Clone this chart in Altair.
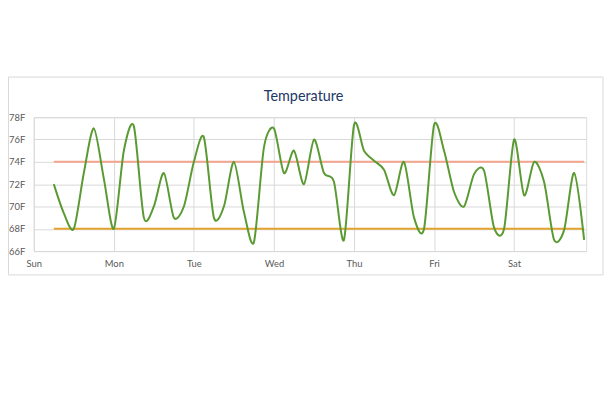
import altair as alt
import pandas as pd

# Day labels at integer day positions
day_labels = ["Sun", "Mon", "Tue", "Wed", "Thu", "Fri", "Sat"]

# Readings every 3 hours, starting Sunday 06:00 (day = 0.25)
start_day = 0.25
step_day = 0.125
temps = [
    72, 69.4, 68, 73, 77, 72.5,            # Sun
    68, 75, 77.2, 69, 70, 73, 69, 70,      # Mon
    74, 76.2, 69, 70, 74, 69.5, 66.8, 75.3,  # Tue
    77, 73, 75, 72, 76, 73, 72.2, 67,      # Wed
    77.3, 75, 74.1, 73.3, 71, 74, 69, 68,  # Thu
    77.3, 75, 71.3, 70, 72.9, 73.2, 68.1, 68,  # Fri
    76, 71, 74, 72.2, 67, 67.9, 73, 67,    # Sat
]
days = [start_day + i * step_day for i in range(len(temps))]
y_ticks = [66, 68, 70, 72, 74, 76, 78]

upper_limit = 74
lower_limit = 68

df = pd.DataFrame({"day": days, "temp": temps})
limits = pd.DataFrame({
    "start": [days[0], days[0]],
    "end": [days[-1], days[-1]],
    "temp": [upper_limit, lower_limit],
    "kind": ["upper", "lower"],
})

label_expr = "[" + ",".join(f"'{d}'" for d in day_labels) + "][datum.value]"

x_scale = alt.Scale(domain=[0, 6.9], nice=False, zero=False)
y_scale = alt.Scale(domain=[66, 78], nice=False, zero=False)

x_axis = alt.Axis(
    values=list(range(7)), labelExpr=label_expr, title=None,
    grid=True, gridColor="#d9d9d9", gridWidth=1,
    domain=False, ticks=False, labelPadding=8, labelFontSize=9.5,
    labelColor="#595959", labelFont="Lato", labelFlush=False,
    labelOverlap=False,
)
y_axis = alt.Axis(
    values=y_ticks, labelExpr="datum.value + 'F'",
    title=None, grid=True, gridColor="#d9d9d9", gridWidth=1,
    domain=False, ticks=False, labelPadding=9, labelFontSize=9.5,
    labelColor="#595959", labelFont="Lato", labelFlush=False,
    labelOverlap=False,
)

line = alt.Chart(df).mark_line(
    interpolate="cardinal", tension=0.2, color="#5A9A33", strokeWidth=2
).encode(
    x=alt.X("day:Q", scale=x_scale, axis=x_axis),
    y=alt.Y("temp:Q", scale=y_scale, axis=y_axis),
)

limit_rules = alt.Chart(limits).mark_rule(strokeWidth=2).encode(
    x=alt.X("start:Q", scale=x_scale, axis=x_axis),
    x2="end:Q",
    y=alt.Y("temp:Q", scale=y_scale, axis=y_axis),
    color=alt.Color(
        "kind:N",
        scale=alt.Scale(domain=["upper", "lower"], range=["#F4A58E", "#E2A32E"]),
        legend=None,
    ),
)

frame = alt.Chart(pd.DataFrame({"a": [0]})).mark_rect(
    fill=None, stroke="#d9d9d9", strokeWidth=1
).encode(
    x=alt.value(-25.5), x2=alt.value(574),
    y=alt.value(-40.5), y2=alt.value(159),
)

title = alt.Chart(pd.DataFrame({"t": ["Temperature"]})).mark_text(
    font="Lato", fontSize=14.5, color="#203864", baseline="alphabetic", align="center"
).encode(
    text="t:N", x=alt.value(272), y=alt.value(-16),
)

chart = alt.layer(frame, limit_rules, line, title).properties(
    width=557, height=135,
    padding={"left": 26, "top": 109, "right": 18, "bottom": 26},
    autosize=alt.AutoSizeParams(type="none"),
).configure_view(stroke=None).configure(background="white")

chart.save("out.html", embed_options={"renderer": "svg", "actions": False})
